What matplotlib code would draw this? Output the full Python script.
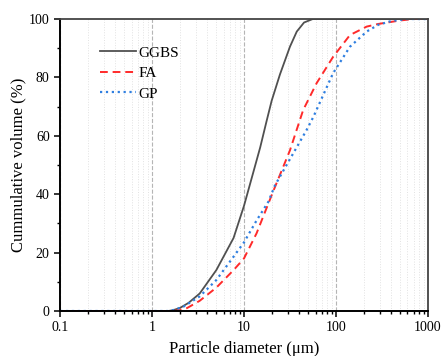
import numpy as np
import matplotlib
matplotlib.use('Agg')
import matplotlib.pyplot as plt
from matplotlib.ticker import LogLocator, MultipleLocator, FixedLocator

plt.rcParams['font.family'] = ['Liberation Serif', 'DejaVu Serif']

# Particle size distributions
d_ggbs = [0.1, 1.5, 1.7, 2.0, 2.5, 3.3, 5.0, 7.7, 10, 12.5, 15, 17.6, 20,
          24.6, 31.6, 37.5, 45, 56, 1000]
v_ggbs = [0, 0, 0.3, 1, 2.8, 6, 14, 25, 36, 47, 56, 65, 72,
          81, 90.5, 95.7, 98.8, 100, 100]

d_fa = [0.1, 1.7, 2.0, 2.4, 3.3, 5.0, 7.7, 10, 13.7, 20.8, 31.6, 44,
        61.6, 93, 142, 216, 288, 500, 700, 1000]
v_fa = [0, 0, 0.3, 1, 3.5, 8, 14, 18, 26.6, 41, 55, 68.8,
        78, 87, 94.5, 97.4, 98.3, 99.5, 100, 100]

d_gp = [0.1, 1.5, 1.7, 2.2, 3.3, 5.0, 7.7, 10, 13.7, 18.4, 21.7, 31.6,
        48, 56.9, 93, 142, 216, 288, 400, 600, 1000]
v_gp = [0, 0, 0.3, 1.5, 5, 10.6, 18.6, 23.5, 31, 37.4, 43, 52,
        62, 66.5, 81.4, 90.5, 95.7, 98, 99.3, 100, 100]

fig = plt.figure(figsize=(4.42, 3.56), dpi=100)
ax = fig.add_axes([0.136, 0.1264, 0.832, 0.8202])

ax.plot(d_ggbs, v_ggbs, '-', color='#505050', lw=1.3, label='GGBS')
ax.plot(d_fa, v_fa, '--', color='#ff2a2a', lw=1.4, dashes=(4, 2.5), label='FA')
ax.plot(d_gp, v_gp, ':', color='#2f7fe0', lw=1.6, label='GP')

ax.set_xscale('log')
ax.set_xlim(0.1, 1000)
ax.set_ylim(0, 100)
ax.xaxis.set_major_locator(FixedLocator([0.1, 1, 10, 100, 1000]))
ax.set_xticklabels(['0.1', '1', '10', '100', '1000'])
ax.xaxis.set_minor_locator(LogLocator(base=10, subs=np.arange(2, 10)))
ax.yaxis.set_major_locator(MultipleLocator(20))
ax.yaxis.set_minor_locator(MultipleLocator(10))

ax.grid(which='major', axis='x', color='#b5b5b5', ls='--', lw=0.8)
ax.grid(which='minor', axis='x', color='#e2e2e2', ls=':', lw=0.7)
ax.set_axisbelow(True)

ax.tick_params(which='major', direction='out', length=4, width=1.1,
               labelsize=10, colors='black')
ax.tick_params(which='minor', direction='out', length=2.5, width=1.0)
ax.tick_params(axis='x', which='minor', labelbottom=False)

for s in ['left', 'bottom']:
    ax.spines[s].set_linewidth(1.4)
    ax.spines[s].set_color('black')
for s in ['top', 'right']:
    ax.spines[s].set_linewidth(1.3)
    ax.spines[s].set_color('#444444')

ax.set_xlabel('Particle diameter (\u03bcm)', fontsize=12, labelpad=5)
ax.set_ylabel('Cummulative volume (%)', fontsize=12, labelpad=2)

ax.legend(loc='upper left', bbox_to_anchor=(0.07, 0.955), frameon=False,
          fontsize=11, handlelength=2.4, handletextpad=0.15, labelspacing=0.45)

fig.savefig('out.png', dpi=100)
